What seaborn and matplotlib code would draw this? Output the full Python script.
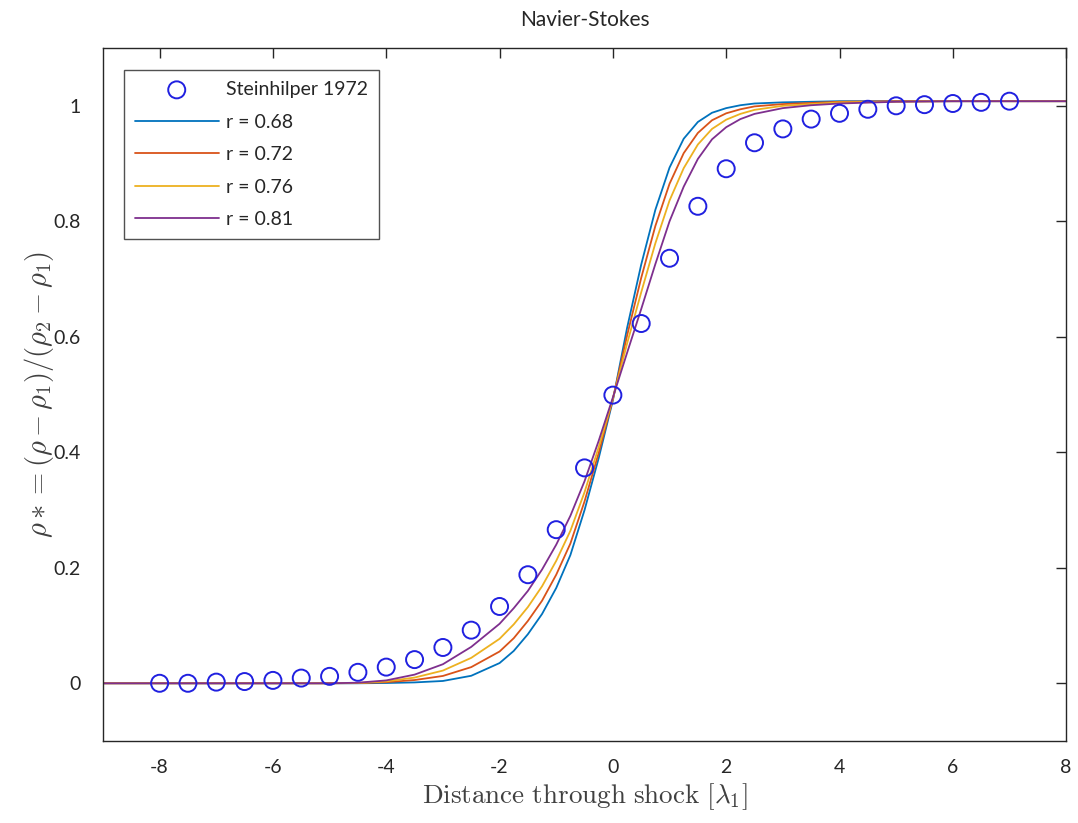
import numpy as np
import pandas as pd
import matplotlib
matplotlib.use("Agg")
import matplotlib.pyplot as plt
import seaborn as sns

exp_x = [-8, -7.5, -7, -6.5, -6, -5.5, -5, -4.5, -4, -3.5, -3, -2.5, -2, -1.5, -1,
         -0.5, 0, 0.5, 1, 1.5, 2, 2.5, 3, 3.5, 4, 4.5, 5, 5.5, 6, 6.5, 7]
exp_rho = [0.0, 0.0, 0.002, 0.003, 0.005, 0.009, 0.012, 0.019, 0.028, 0.041, 0.062,
           0.092, 0.133, 0.188, 0.266, 0.373, 0.499, 0.623, 0.736, 0.826, 0.891,
           0.936, 0.960, 0.977, 0.987, 0.994, 1.0, 1.002, 1.004, 1.006, 1.008]

# Navier-Stokes profiles for each viscosity exponent r
ns_x = [-9, -6, -5, -4.5, -4, -3.5, -3, -2.5, -2, -1.75, -1.5, -1.25, -1, -0.75, -0.5,
        -0.25, 0, 0.25, 0.5, 0.75, 1, 1.25, 1.5, 1.75, 2, 2.25, 2.5, 3, 3.5, 4, 5, 6, 8]
rho_068 = [0, 0, 0, 0, 0.0005, 0.0015, 0.004, 0.013, 0.035, 0.056, 0.085, 0.12, 0.165,
           0.222, 0.30, 0.39, 0.49, 0.615, 0.725, 0.82, 0.893, 0.943, 0.972, 0.988,
           0.996, 1.001, 1.004, 1.006, 1.007, 1.008, 1.008, 1.008, 1.008]
rho_072 = [0, 0, 0, 0.0003, 0.0019, 0.0056, 0.0127, 0.028, 0.055, 0.078, 0.108, 0.143,
           0.188, 0.242, 0.315, 0.399, 0.492, 0.602, 0.702, 0.792, 0.865, 0.918, 0.953,
           0.975, 0.987, 0.994, 0.999, 1.003, 1.005, 1.007, 1.008, 1.008, 1.008]
rho_076 = [0, 0, 0, 0.0006, 0.0033, 0.0099, 0.022, 0.044, 0.077, 0.102, 0.132, 0.168,
           0.212, 0.264, 0.331, 0.409, 0.493, 0.588, 0.677, 0.762, 0.836, 0.892, 0.933,
           0.96, 0.976, 0.986, 0.993, 1.0, 1.003, 1.006, 1.007, 1.008, 1.008]
rho_081 = [0, 0, 0, 0.001, 0.005, 0.015, 0.033, 0.063, 0.103, 0.13, 0.16, 0.197, 0.24,
           0.29, 0.35, 0.42, 0.495, 0.572, 0.648, 0.726, 0.8, 0.86, 0.908, 0.942, 0.963,
           0.977, 0.986, 0.996, 1.001, 1.004, 1.007, 1.008, 1.008]

r_labels = ["r = 0.68", "r = 0.72", "r = 0.76", "r = 0.81"]
r_colors = ["#0072BD", "#D95319", "#EDB120", "#7E2F8E"]

sns.set_style("white")
plt.rcParams["font.family"] = ["Lato", "DejaVu Sans"]
plt.rcParams["mathtext.fontset"] = "cm"

fig = plt.figure(figsize=(10.78, 8.23), dpi=100)
ax = fig.add_axes([0.0955, 0.0996, 0.8935, 0.842])

sns.scatterplot(x=exp_x, y=exp_rho, ax=ax, marker="o", s=150, facecolor="none",
                edgecolor="#2020E0", linewidth=1.4, label="Steinhilper 1972", zorder=3)

for rho, lab, col in zip([rho_068, rho_072, rho_076, rho_081], r_labels, r_colors):
    df = pd.DataFrame({"x": ns_x, "rho": rho})
    sns.lineplot(data=df, x="x", y="rho", ax=ax, color=col, linewidth=1.3,
                 label=lab, sort=False, estimator=None)

ax.set_xlim(-9, 8)
ax.set_ylim(-0.1, 1.1)
xt = [-8, -6, -4, -2, 0, 2, 4, 6, 8]
ax.set_xticks(xt)
ax.set_xticklabels([str(v) for v in xt])
yt = [0, 0.2, 0.4, 0.6, 0.8, 1]
ax.set_yticks(yt)
ax.set_yticklabels(["0", "0.2", "0.4", "0.6", "0.8", "1"])
ax.tick_params(direction="in", length=7, width=1, top=True, right=True,
               labelsize=14, colors="#262626")
ax.tick_params(axis="x", pad=13)
ax.tick_params(axis="y", pad=16)
for sp in ax.spines.values():
    sp.set_color("#262626")
    sp.set_linewidth(1.0)

ax.set_title("Navier-Stokes", fontsize=15, color="#262626", pad=16)
ax.set_xlabel(r"$\mathrm{Distance\ through\ shock\ }[\lambda_1]$", fontsize=19.5,
              color="#404040", labelpad=4)
ax.set_ylabel(r"$\rho* = (\rho-\rho_1)/(\rho_2-\rho_1)$", fontsize=20.5,
              color="#404040", labelpad=-2)

leg = ax.legend(loc="upper left", bbox_to_anchor=(0.012, 0.982), fontsize=14,
                frameon=True, fancybox=False, handlelength=4.3, handletextpad=0.4,
                borderpad=0.55, labelspacing=0.8, borderaxespad=0.5)
leg.get_frame().set_edgecolor("#262626")
leg.get_frame().set_linewidth(1.0)

fig.savefig("out.png", dpi=100, facecolor="white")
